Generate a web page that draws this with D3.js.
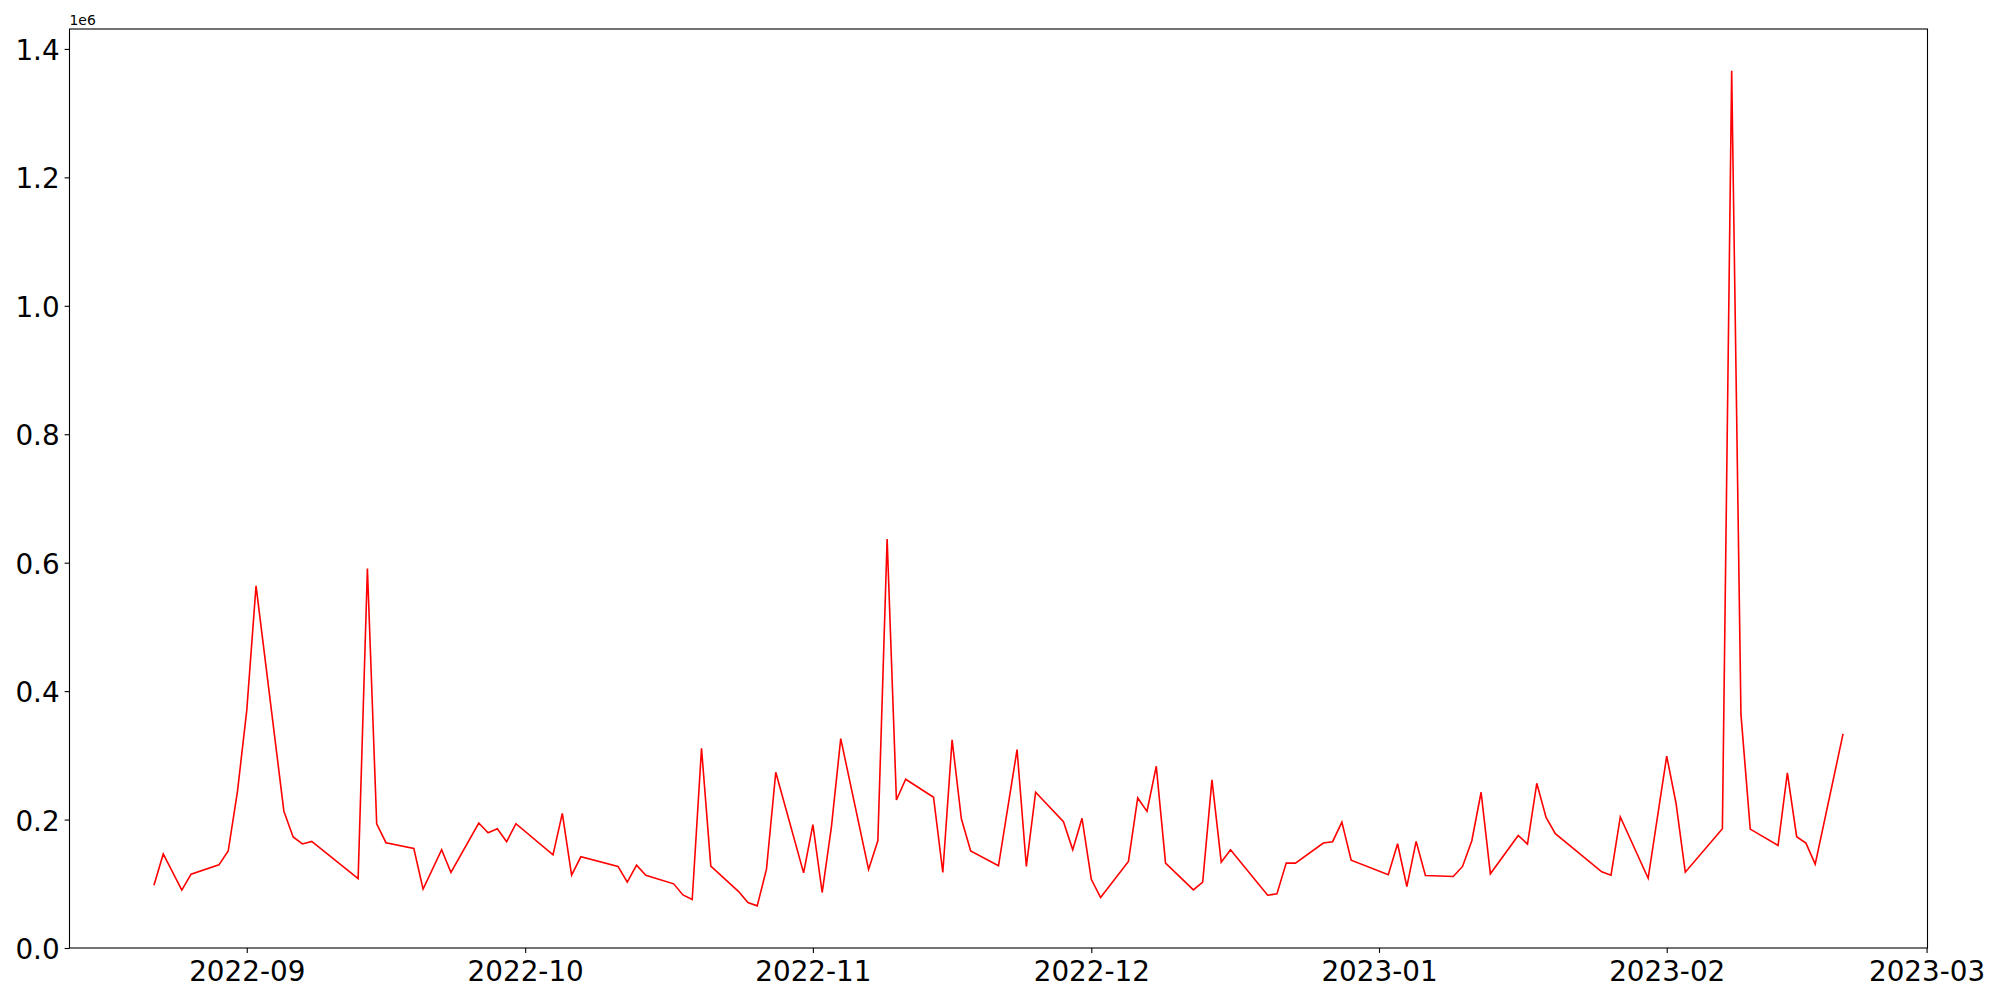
<!DOCTYPE html>
<html>
<head>
<meta charset="utf-8">
<script src="https://cdn.jsdelivr.net/npm/d3@7"></script>
<style>
  body { margin: 0; background: #fff; }
  svg { display: block; font-family: "DejaVu Sans", sans-serif; }
</style>
</head>
<body>
<svg id="chart" width="2000" height="1000"></svg>
<script>
var dates = [
  "2022-08-22","2022-08-23","2022-08-25","2022-08-26","2022-08-29","2022-08-30","2022-08-31",
  "2022-09-01","2022-09-02","2022-09-05","2022-09-06","2022-09-07","2022-09-08","2022-09-13",
  "2022-09-14","2022-09-15","2022-09-16","2022-09-19","2022-09-20","2022-09-22","2022-09-23",
  "2022-09-26","2022-09-27","2022-09-28","2022-09-29","2022-09-30","2022-10-04","2022-10-05",
  "2022-10-06","2022-10-07","2022-10-11","2022-10-12","2022-10-13","2022-10-14","2022-10-17",
  "2022-10-18","2022-10-19","2022-10-20","2022-10-21","2022-10-24","2022-10-25","2022-10-26",
  "2022-10-27","2022-10-28","2022-10-31","2022-11-01","2022-11-02","2022-11-03","2022-11-04",
  "2022-11-07","2022-11-08","2022-11-09","2022-11-10","2022-11-11","2022-11-14","2022-11-15",
  "2022-11-16","2022-11-17","2022-11-18","2022-11-21","2022-11-23","2022-11-24","2022-11-25",
  "2022-11-28","2022-11-29","2022-11-30","2022-12-01","2022-12-02","2022-12-05","2022-12-06",
  "2022-12-07","2022-12-08","2022-12-09","2022-12-12","2022-12-13","2022-12-14","2022-12-15",
  "2022-12-16","2022-12-20","2022-12-21","2022-12-22","2022-12-23","2022-12-26","2022-12-27",
  "2022-12-28","2022-12-29","2023-01-02","2023-01-03","2023-01-04","2023-01-05","2023-01-06",
  "2023-01-09","2023-01-10","2023-01-11","2023-01-12","2023-01-13","2023-01-16","2023-01-17",
  "2023-01-18","2023-01-19","2023-01-20","2023-01-25","2023-01-26","2023-01-27","2023-01-30",
  "2023-02-01","2023-02-02","2023-02-03","2023-02-07","2023-02-08","2023-02-09","2023-02-10",
  "2023-02-13","2023-02-14","2023-02-15","2023-02-16","2023-02-17","2023-02-20"
];
var values = [
  97800,146500,90000,115000,129500,151000,244000,
  370000,564000,213000,173000,162000,166000,108000,
  591000,193500,164000,155000,91600,153000,117600,
  194600,179500,185700,165500,193600,145000,209700,
  113400,142000,127000,102500,129000,113400,99900,
  82700,75400,311000,127500,87900,70800,65600,
  122800,273700,117000,192000,86400,189000,326000,
  122300,167000,637000,230500,262700,234700,117600,
  324000,201300,151000,128000,309000,127000,242500,
  196700,153000,201900,107000,78600,134800,233600,
  212800,283000,132200,90500,102500,261700,133700,
  153000,82200,84300,132200,132200,163400,165500,
  196000,136800,114000,162300,95700,166000,112900,
  111300,127000,167000,242500,115500,175300,161800,
  256500,203400,178000,118600,113400,204000,108500,
  298700,225800,118100,185700,1366000,363700,185200,
  159700,272600,173300,163400,130600,333500
];
var yTicks = [0, 200000, 400000, 600000, 800000, 1000000, 1200000, 1400000];
var xTicks = ["2022-09-01","2022-10-01","2022-11-01","2022-12-01","2023-01-01","2023-02-01","2023-03-01"];

var parse = d3.utcParse("%Y-%m-%d");
var data = dates.map(function (d, i) {
  return { date: parse(d), value: values[i] };
});

var margin = { left: 69.5, right: 72.5, top: 29, bottom: 52 };
var width = 2000 - margin.left - margin.right;
var height = 1000 - margin.top - margin.bottom;

// matplotlib style 5% padding on x, y starts at 0
var xExt = d3.extent(data, function (d) { return d.date; });
var pad = (xExt[1] - xExt[0]) * 0.05;
var x = d3.scaleUtc()
  .domain([new Date(+xExt[0] - pad), new Date(+xExt[1] + pad)])
  .range([0, width]);

var yMax = d3.max(values), yMin = d3.min(values);
var y = d3.scaleLinear()
  .domain([0, yMax + (yMax - yMin) * 0.05])
  .range([height, 0]);

var svg = d3.select("#chart");
var g = svg.append("g").attr("transform", "translate(" + margin.left + "," + margin.top + ")");

var xAxis = d3.axisBottom(x)
  .tickValues(xTicks.map(parse))
  .tickFormat(d3.utcFormat("%Y-%m"))
  .tickSize(4.9)
  .tickPadding(5);

var yAxis = d3.axisLeft(y)
  .tickValues(yTicks)
  .tickFormat(function (d) { return (d / 1e6).toFixed(1); })
  .tickSize(4.9)
  .tickPadding(5);

var line = d3.line()
  .x(function (d) { return x(d.date); })
  .y(function (d) { return y(d.value); });

g.append("path")
  .datum(data)
  .attr("fill", "none")
  .attr("stroke", "#ff0000")
  .attr("stroke-width", 1.6)
  .attr("stroke-linejoin", "miter")
  .attr("d", line);

var gx = g.append("g")
  .attr("transform", "translate(0," + height + ")")
  .call(xAxis);
var gy = g.append("g").call(yAxis);

[gx, gy].forEach(function (a) {
  a.select(".domain").remove();
  a.selectAll(".tick line").attr("stroke", "#000").attr("stroke-width", 1.1);
  a.selectAll(".tick text")
    .attr("fill", "#000")
    .style("font-family", "'DejaVu Sans', sans-serif")
    .style("font-size", "27.8px");
});
gx.selectAll(".tick text").attr("dy", "0.82em");
gy.selectAll(".tick text").attr("dy", "0.38em");

// frame
g.append("rect")
  .attr("width", width)
  .attr("height", height)
  .attr("fill", "none")
  .attr("stroke", "#000")
  .attr("stroke-width", 1.1);

// offset text
g.append("text")
  .attr("x", 0)
  .attr("y", -4)
  .style("font-size", "13.9px")
  .attr("fill", "#000")
  .text("1e6");
</script>
</body>
</html>
